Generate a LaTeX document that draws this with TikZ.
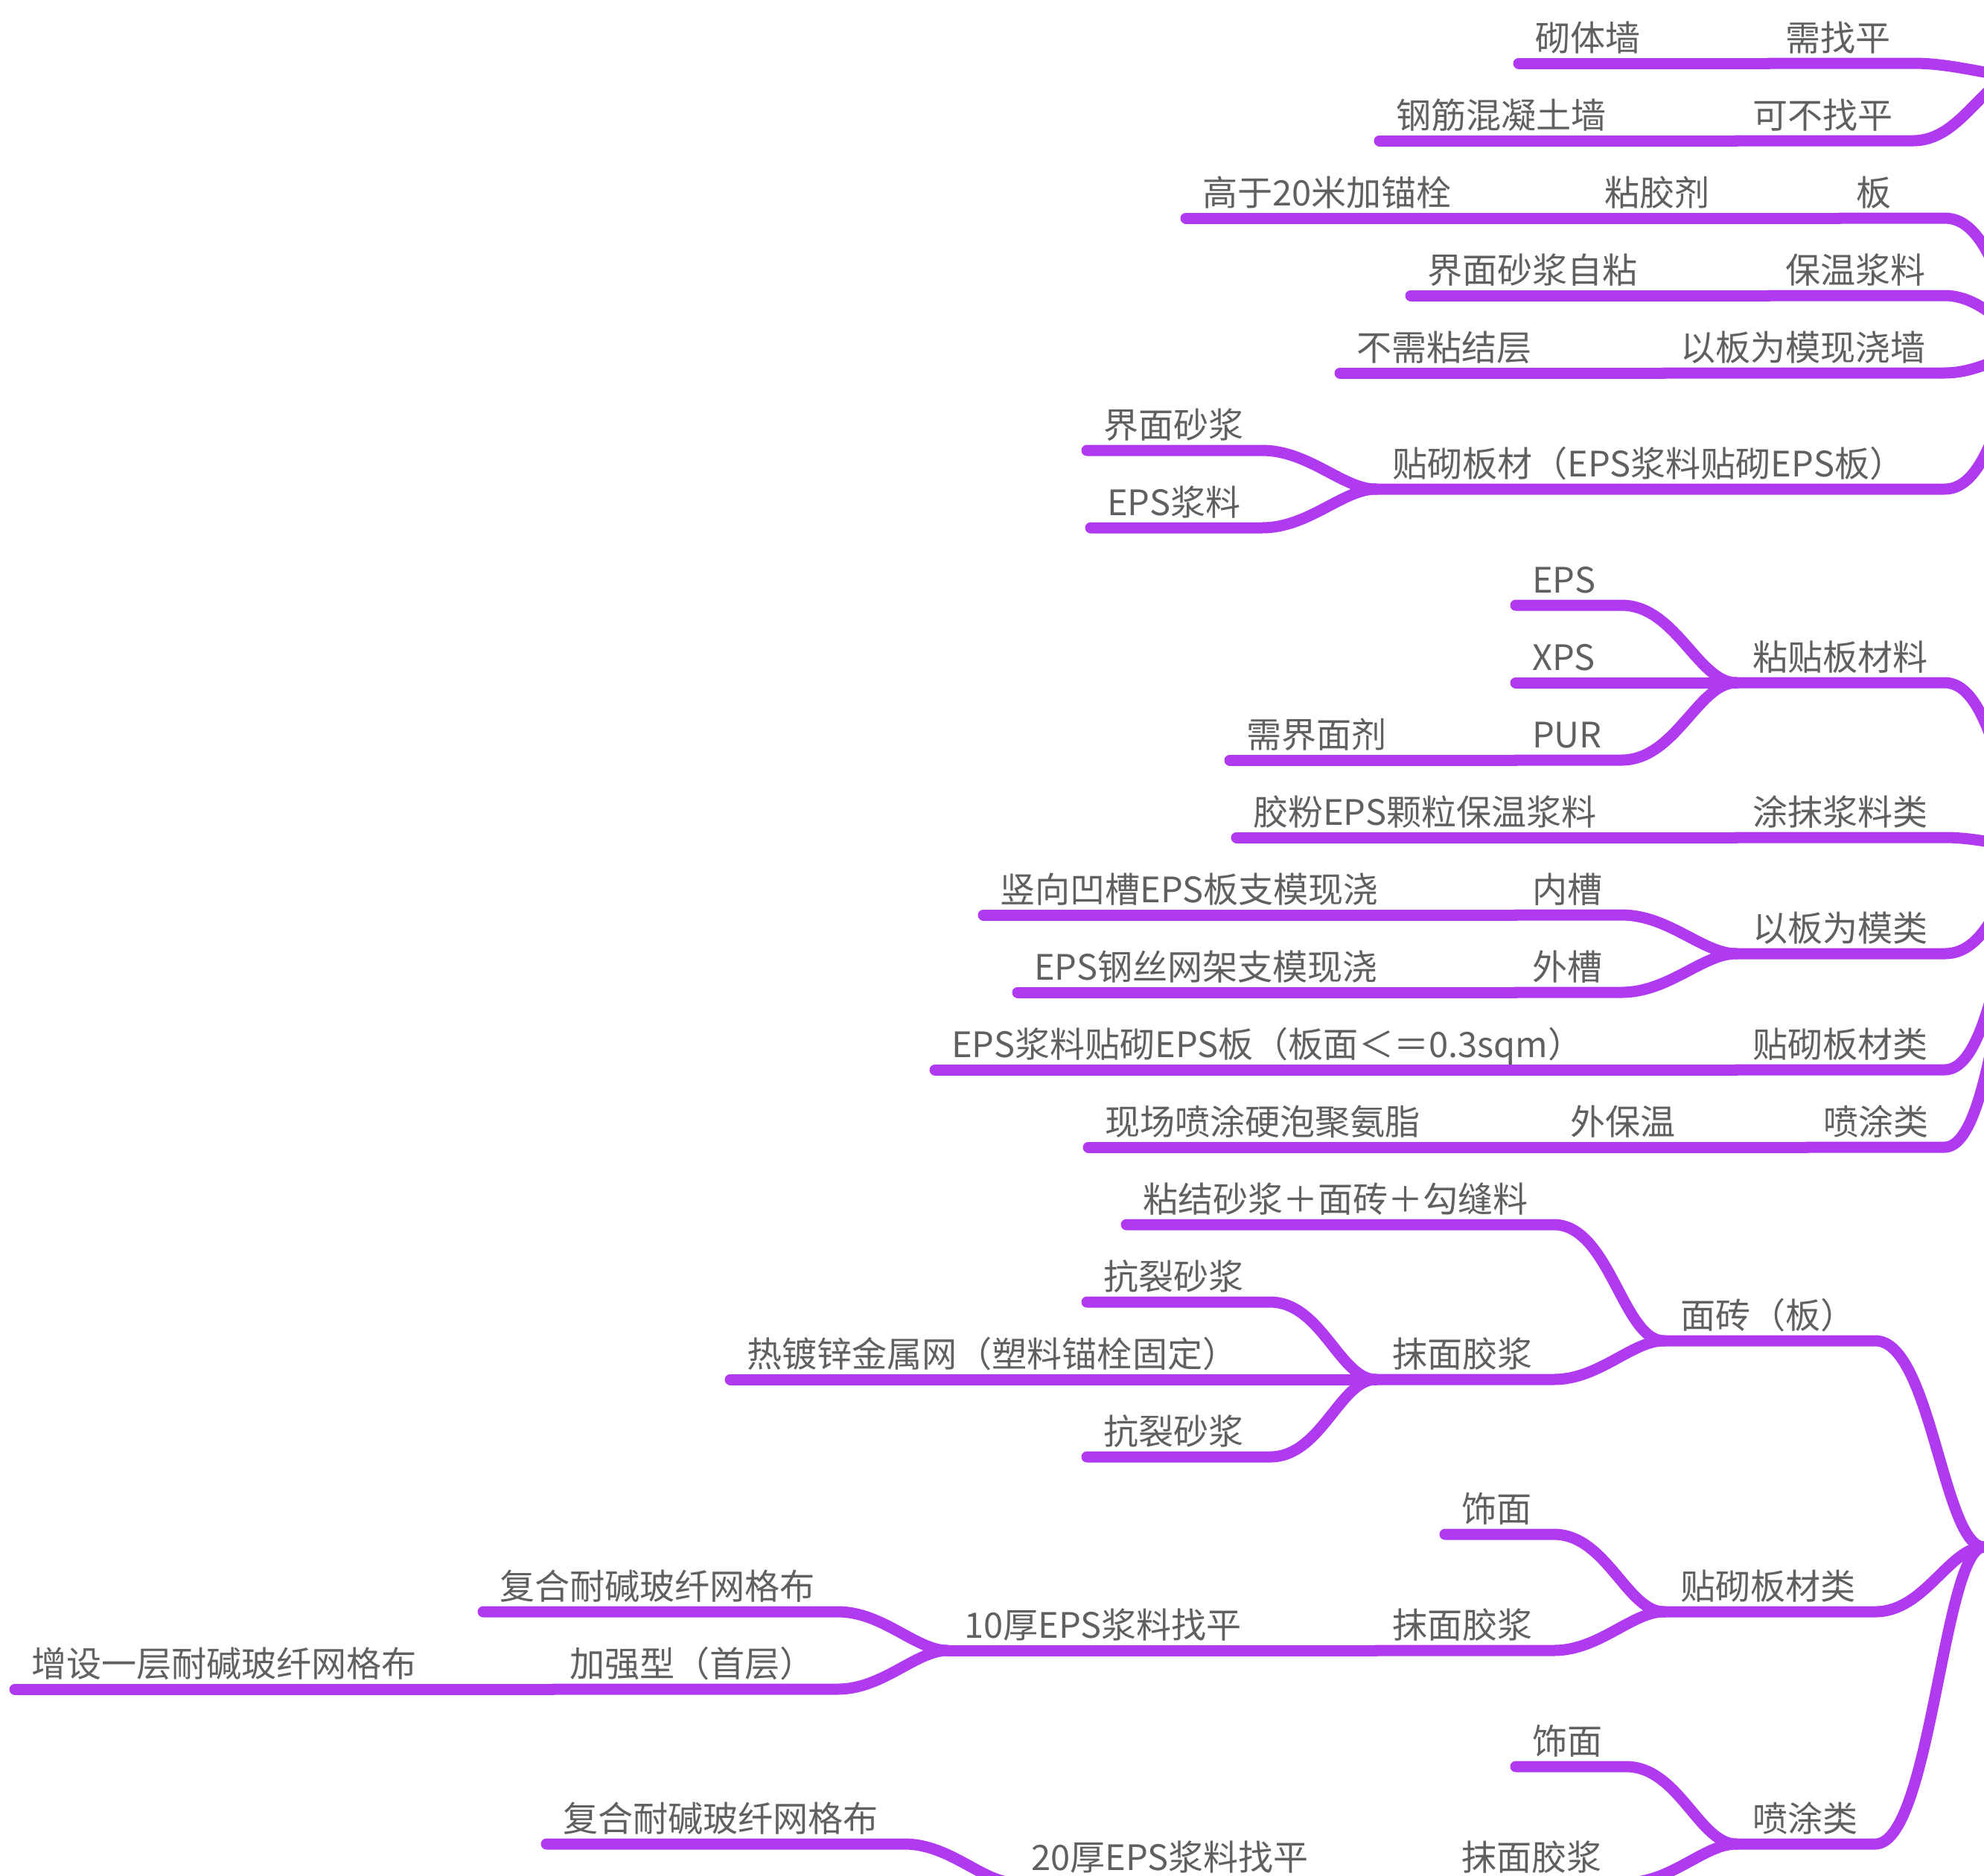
\documentclass[tikz,border=0pt]{standalone}
\usepackage{fontspec}
\newfontfamily\mapfont{Noto Sans CJK SC}
\definecolor{linepurple}{RGB}{176,58,240}
\definecolor{inkgray}{RGB}{96,96,96}

\begin{document}
\begin{tikzpicture}[
	mynode/.style = {
		anchor=south west, align=left, text width=#1-4.4mm,
		inner xsep=2.2mm, inner ysep=0pt, outer sep=0pt,
		text height=3.8mm, text depth=1.7mm,
		font=\mapfont\fontsize{13.4pt}{16pt}\selectfont, text=inkgray},
	branch/.style = {draw=linepurple, line width=1.5mm,
		line cap=round, line join=round},
	link/.style = {out=0, in=180, in looseness=0.7,
		out max distance=7.5mm, in max distance=5.5mm}
]
\useasboundingbox (0,0) rectangle (26.65,-25.19);
\clip (0,0) rectangle (26.65,-25.19);

% main branches meet beyond the right edge
\coordinate (ra) at (27.11,-1.02);
\coordinate (rb) at (27.48,-4.63);
\coordinate (rc) at (27.48,-11.42);
\coordinate (rd) at (26.65,-20.78);

% walls
\node (n0a) [mynode=1.87cm] at (20.40,-0.85)  {砌体墙};
\node (n0b) [mynode=1.94cm] at (23.76,-0.85)  {需找平};
\node (n1a) [mynode=3.29cm] at (18.53,-1.89)  {钢筋混凝土墙};
\node (n1b) [mynode=2.38cm] at (23.32,-1.89)  {可不找平};

% fixing
\node (n2a) [mynode=3.89cm] at (15.93,-2.93)  {高于20米加锚栓};
\node (n2b) [mynode=1.87cm] at (21.33,-2.93)  {粘胶剂};
\node (n2c) [mynode=1.41cm] at (24.71,-2.93)  {板};
\node (n3a) [mynode=3.29cm] at (18.95,-3.97)  {界面砂浆自粘};
\node (n3b) [mynode=2.36cm] at (23.76,-3.97)  {保温浆料};
\node (n4a) [mynode=2.82cm] at (18.00,-5.01)  {不需粘结层};
\node (n4b) [mynode=3.77cm] at (22.35,-5.01)  {以板为模现浇墙};
\node (n5a) [mynode=2.35cm] at (14.60,-6.05)  {界面砂浆};
\node (n6a) [mynode=2.30cm] at (14.65,-7.09)  {EPS浆料};
\node (n5b) [mynode=7.64cm] at (18.48,-6.57)  {贴砌板材（EPS浆料贴砌EPS板）};

% insulation layer
\node (n7a)  [mynode=1.42cm] at (20.36,-8.13)  {EPS};
\node (n8a)  [mynode=1.42cm] at (20.36,-9.17)  {XPS};
\node (n8b)  [mynode=2.80cm] at (23.32,-9.17)  {粘贴板材料};
\node (n9a)  [mynode=2.34cm] at (16.52,-10.21) {需界面剂};
\node (n9b)  [mynode=1.42cm] at (20.36,-10.21) {PUR};
\node (n10a) [mynode=5.19cm] at (16.61,-11.25) {胶粉EPS颗粒保温浆料};
\node (n10b) [mynode=2.80cm] at (23.32,-11.25) {涂抹浆料类};
\node (n11a) [mynode=5.66cm] at (13.21,-12.29) {竖向凹槽EPS板支模现浇};
\node (n11b) [mynode=1.42cm] at (20.36,-12.29) {内槽};
\node (n11c) [mynode=2.80cm] at (23.32,-12.81) {以板为模类};
\node (n12a) [mynode=5.20cm] at (13.67,-13.33) {EPS钢丝网架支模现浇};
\node (n12b) [mynode=1.42cm] at (20.36,-13.33) {外槽};
\node (n13a) [mynode=8.93cm] at (12.56,-14.37) {EPS浆料贴砌EPS板（板面＜＝0.3sqm）};
\node (n13b) [mynode=2.80cm] at (23.32,-14.37) {贴砌板材类};
\node (n14a) [mynode=4.70cm] at (14.62,-15.41) {现场喷涂硬泡聚氨脂};
\node (n14b) [mynode=1.87cm] at (20.87,-15.41) {外保温};
\node (n14c) [mynode=1.85cm] at (24.27,-15.41) {喷涂类};

% finish layer
\node (n15a) [mynode=5.74cm] at (15.13,-16.45) {粘结砂浆＋面砖＋勾缝料};
\node (n16a) [mynode=2.46cm] at (14.60,-17.49) {抗裂砂浆};
\node (n16b) [mynode=2.84cm] at (22.35,-18.01) {面砖（板）};
\node (n17a) [mynode=6.89cm] at (9.81,-18.53)  {热镀锌金属网（塑料锚栓固定）};
\node (n17b) [mynode=2.39cm] at (18.48,-18.53) {抹面胶浆};
\node (n18a) [mynode=2.46cm] at (14.60,-19.57) {抗裂砂浆};
\node (n19a) [mynode=1.46cm] at (19.41,-20.61) {饰面};
\node (n20a) [mynode=4.76cm] at (6.49,-21.65)  {复合耐碱玻纤网格布};
\node (n20b) [mynode=4.25cm] at (12.73,-22.17) {10厚EPS浆料找平};
\node (n20c) [mynode=2.39cm] at (18.48,-22.17) {抹面胶浆};
\node (n20d) [mynode=2.84cm] at (22.35,-21.65) {贴砌板材类};
\node (n21a) [mynode=5.69cm] at (0.20,-22.69)  {增设一层耐碱玻纤网格布};
\node (n21b) [mynode=3.82cm] at (7.43,-22.69)  {加强型（首层）};
\node (n22a) [mynode=1.48cm] at (20.36,-23.73) {饰面};
\node (n23a) [mynode=4.81cm] at (7.34,-24.77)  {复合耐碱玻纤网格布};
\node (n23b) [mynode=4.25cm] at (13.63,-25.29) {20厚EPS浆料找平};
\node (n23c) [mynode=2.43cm] at (19.41,-25.29) {抹面胶浆};
\node (n23d) [mynode=1.87cm] at (23.32,-24.77) {喷涂类};

\draw[branch] (n0a.south west) -- (n0a.south east) to[link] (n0b.south west);
\draw[branch] (n0b.south west) -- (n0b.south east) to[link] (ra);
\draw[branch] (n1a.south west) -- (n1a.south east) to[link] (n1b.south west);
\draw[branch] (n1b.south west) -- (n1b.south east) to[link] (ra);

\draw[branch] (n2a.south west) -- (n2a.south east) to[link] (n2b.south west);
\draw[branch] (n2b.south west) -- (n2b.south east) to[link] (n2c.south west);
\draw[branch] (n2c.south west) -- (n2c.south east) to[link] (rb);
\draw[branch] (n3a.south west) -- (n3a.south east) to[link] (n3b.south west);
\draw[branch] (n3b.south west) -- (n3b.south east) to[link] (rb);
\draw[branch] (n4a.south west) -- (n4a.south east) to[link] (n4b.south west);
\draw[branch] (n4b.south west) -- (n4b.south east) to[link] (rb);
\draw[branch] (n5a.south west) -- (n5a.south east) to[link] (n5b.south west);
\draw[branch] (n6a.south west) -- (n6a.south east) to[link] (n5b.south west);
\draw[branch] (n5b.south west) -- (n5b.south east) to[link] (rb);

\draw[branch] (n7a.south west) -- (n7a.south east) to[link] (n8b.south west);
\draw[branch] (n8a.south west) -- (n8a.south east) to[link] (n8b.south west);
\draw[branch] (n9a.south west) -- (n9a.south east) to[link] (n9b.south west);
\draw[branch] (n9b.south west) -- (n9b.south east) to[link] (n8b.south west);
\draw[branch] (n8b.south west) -- (n8b.south east) to[link] (rc);
\draw[branch] (n10a.south west) -- (n10a.south east) to[link] (n10b.south west);
\draw[branch] (n10b.south west) -- (n10b.south east) to[link] (rc);
\draw[branch] (n11a.south west) -- (n11a.south east) to[link] (n11b.south west);
\draw[branch] (n11b.south west) -- (n11b.south east) to[link] (n11c.south west);
\draw[branch] (n12a.south west) -- (n12a.south east) to[link] (n12b.south west);
\draw[branch] (n12b.south west) -- (n12b.south east) to[link] (n11c.south west);
\draw[branch] (n11c.south west) -- (n11c.south east) to[link] (rc);
\draw[branch] (n13a.south west) -- (n13a.south east) to[link] (n13b.south west);
\draw[branch] (n13b.south west) -- (n13b.south east) to[link] (rc);
\draw[branch] (n14a.south west) -- (n14a.south east) to[link] (n14b.south west);
\draw[branch] (n14b.south west) -- (n14b.south east) to[link] (n14c.south west);
\draw[branch] (n14c.south west) -- (n14c.south east) to[link] (rc);

\draw[branch] (n15a.south west) -- (n15a.south east) to[link] (n16b.south west);
\draw[branch] (n16a.south west) -- (n16a.south east) to[link] (n17b.south west);
\draw[branch] (n17a.south west) -- (n17a.south east) to[link] (n17b.south west);
\draw[branch] (n18a.south west) -- (n18a.south east) to[link] (n17b.south west);
\draw[branch] (n17b.south west) -- (n17b.south east) to[link] (n16b.south west);
\draw[branch] (n16b.south west) -- (n16b.south east) to[link] (rd);
\draw[branch] (n19a.south west) -- (n19a.south east) to[link] (n20d.south west);
\draw[branch] (n20a.south west) -- (n20a.south east) to[link] (n20b.south west);
\draw[branch] (n21a.south west) -- (n21a.south east) to[link] (n21b.south west);
\draw[branch] (n21b.south west) -- (n21b.south east) to[link] (n20b.south west);
\draw[branch] (n20b.south west) -- (n20b.south east) to[link] (n20c.south west);
\draw[branch] (n20c.south west) -- (n20c.south east) to[link] (n20d.south west);
\draw[branch] (n20d.south west) -- (n20d.south east) to[link] (rd);
\draw[branch] (n22a.south west) -- (n22a.south east) to[link] (n23d.south west);
\draw[branch] (n23a.south west) -- (n23a.south east) to[link] (n23b.south west);
\draw[branch] (n23b.south west) -- (n23b.south east) to[link] (n23c.south west);
\draw[branch] (n23c.south west) -- (n23c.south east) to[link] (n23d.south west);
\draw[branch] (n23d.south west) -- (n23d.south east) to[link] (rd);
\end{tikzpicture}
\end{document}
